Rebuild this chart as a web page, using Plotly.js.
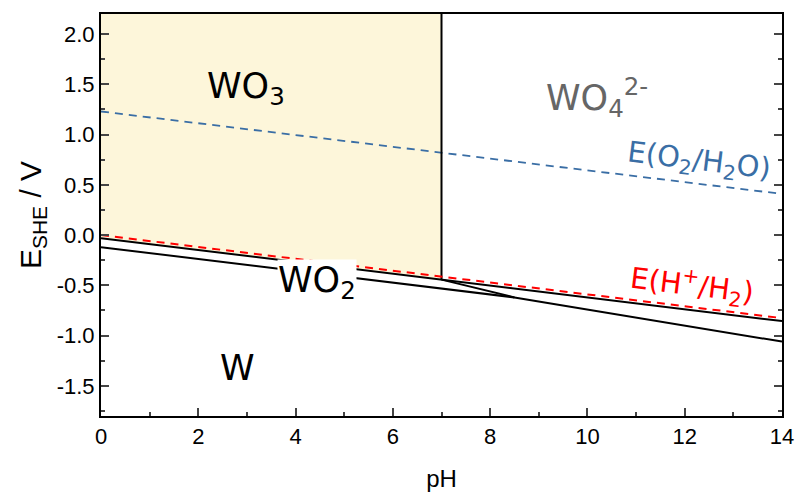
<!DOCTYPE html>
<html>
<head>
<meta charset="utf-8">
<script src="https://cdn.plot.ly/plotly-3.0.1.min.js"></script>
<style>html,body{margin:0;padding:0;background:#fff;}#chart{width:797px;height:493px;}</style>
</head>
<body>
<div id="chart"></div>
<script>
// Boundary lines (pH, E vs SHE in V)
const fillPH = [0, 7, 7, 0];
const fillE = [-0.03, -0.443, 2.2, 2.2];
const upperPH = [0, 7, 14];
const upperE = [-0.03, -0.443, -0.856];
const lowerPH = [0, 8.5, 14];
const lowerE = [-0.12, -0.62, -1.06];
const shortPH = [7, 8.5];
const shortE = [-0.443, -0.62];
const vertPH = [7, 7];
const vertE = [-0.443, 2.2];
const o2PH = [0, 14];
const o2E = [1.23, 0.41];
const h2PH = [0, 14];
const h2E = [0, -0.826];
const xTicks = [0, 2, 4, 6, 8, 10, 12, 14];
const yTicks = [-1.5, -1.0, -0.5, 0.0, 0.5, 1.0, 1.5, 2.0];
const yTickText = ['-1.5', '-1.0', '-0.5', '0.0', '0.5', '1.0', '1.5', '2.0'];

const black = {color: '#000', width: 2};
const traces = [
  {x: fillPH, y: fillE, fill: 'toself', fillcolor: 'rgb(253,246,218)', mode: 'none', hoverinfo: 'skip'},
  {x: o2PH, y: o2E, mode: 'lines', line: {color: '#3a6ea5', width: 1.8, dash: '8px,6px'}},
  {x: upperPH, y: upperE, mode: 'lines', line: black},
  {x: lowerPH, y: lowerE, mode: 'lines', line: black},
  {x: shortPH, y: shortE, mode: 'lines', line: black},
  {x: vertPH, y: vertE, mode: 'lines', line: black},
  {x: h2PH, y: h2E, mode: 'lines', line: {color: '#ff0000', width: 2, dash: '8px,6px'}}
];

const annFont = 'DejaVu Sans, sans-serif';
const layout = {
  width: 797, height: 493,
  margin: {l: 101, r: 15, t: 14, b: 77},
  showlegend: false,
  paper_bgcolor: '#fff', plot_bgcolor: '#fff',
  font: {family: 'Liberation Sans, Arial, sans-serif', color: '#000'},
  xaxis: {
    range: [0, 14], tickvals: xTicks, ticks: 'inside', ticklen: 8, tickwidth: 2,
    minor: {dtick: 1, ticks: 'inside', ticklen: 4, tickwidth: 2},
    showline: true, linewidth: 2, linecolor: '#000', mirror: true,
    showgrid: false, zeroline: false,
    tickfont: {size: 22, family: 'Liberation Sans, Arial, sans-serif'},
    title: {text: 'pH', font: {size: 24}, standoff: 22}
  },
  yaxis: {
    range: [-1.8, 2.2], tickvals: yTicks, ticktext: yTickText, ticks: 'inside', ticklen: 8, tickwidth: 2,
    minor: {dtick: 0.25, tick0: 0, ticks: 'inside', ticklen: 4, tickwidth: 2},
    showline: true, linewidth: 2, linecolor: '#000', mirror: 'ticks',
    showgrid: false, zeroline: false,
    tickfont: {size: 22, family: 'Liberation Sans, Arial, sans-serif'},
    title: {text: 'E<sub>SHE</sub> / V', font: {size: 30}, standoff: 6}
  },
  annotations: [
    {x: 2.98, y: 1.46, text: 'WO<sub>3</sub>', showarrow: false, font: {family: annFont, size: 35, color: '#000'}},
    {x: 10.2, y: 1.37, text: 'WO<sub>4</sub><sup>2-</sup>', showarrow: false, font: {family: annFont, size: 35, color: '#666'}},
    {x: 12.3, y: 0.73, text: 'E(O<sub>2</sub>/H<sub>2</sub>O)', showarrow: false, textangle: 7, font: {family: annFont, size: 29, color: '#3a6ea5'}},
    {x: 12.15, y: -0.5, text: 'E(H<sup>+</sup>/H<sub>2</sub>)', showarrow: false, textangle: 7, font: {family: annFont, size: 29, color: '#ff0000'}},
    {x: 4.45, y: -0.47, text: 'WO<sub>2</sub>', showarrow: false, bgcolor: '#fff', borderpad: 0, font: {family: annFont, size: 35, color: '#000'}},
    {x: 2.8, y: -1.32, text: 'W', showarrow: false, font: {family: annFont, size: 35, color: '#000'}}
  ]
};
Plotly.newPlot('chart', traces, layout, {displayModeBar: false, staticPlot: true});
</script>
</body>
</html>
